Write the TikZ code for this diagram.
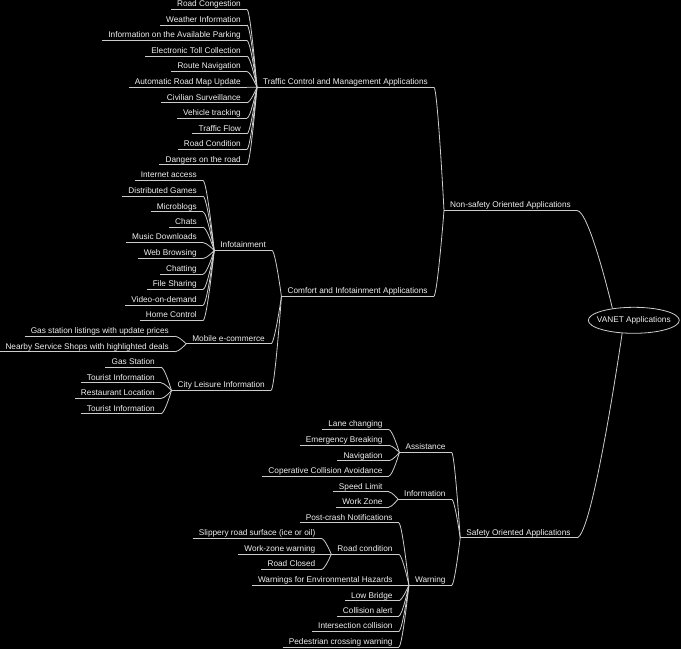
\documentclass[tikz,border=0pt]{standalone}
\usepackage{fontspec}
\setmainfont{Liberation Sans}
\usetikzlibrary{calc,shapes.geometric}
\definecolor{lc}{RGB}{205,205,205}
\definecolor{tc}{RGB}{240,240,240}
\newcommand\mmlink[2]{\draw[conn] let \p1=(#1), \p2=(#2) in (\p1) .. controls ({\x1+0.35*(\x2-\x1)},\y1) and (\p2) .. (\p2);}
\begin{document}
\begin{tikzpicture}[x=1pt,y=-1pt,
  conn/.style={draw=lc, line width=0.8pt},
  lbl/.style={anchor=south east, inner xsep=6pt, inner ysep=0.5pt, text height=6pt, text depth=2pt, text=tc, font=\fontsize{8.25}{10}\selectfont},
]
\fill[black] (0,0) rectangle (681,649);
\useasboundingbox (0,0) rectangle (681,649);

% root
\node[draw=lc, line width=0.8pt, ellipse, minimum width=91pt, minimum height=26pt, inner sep=0pt, text=tc, font=\fontsize{8.25}{10}\selectfont] (v) at (633.8,320.3) {\makebox[0pt]{VANET Applications}};

% main branches
\node[lbl] (ns) at (577,210.5) {Non-safety Oriented Applications};
\node[lbl] (saf) at (576.7,537.8) {Safety Oriented Applications};

% non-safety
\node[lbl] (tcm) at (434,87.3) {Traffic Control and Management Applications};
\node[lbl] (ci) at (433.7,296.5) {Comfort and Infotainment Applications};

\node[lbl] (t1) at (247,9.5) {Road Congestion};
\node[lbl] (t2) at (247,25.0) {Weather Information};
\node[lbl] (t3) at (247,40.6) {Information on the Available Parking};
\node[lbl] (t4) at (247,56.1) {Electronic Toll Collection};
\node[lbl] (t5) at (247,71.6) {Route Navigation};
\node[lbl] (t6) at (247,87.2) {Automatic Road Map Update};
\node[lbl] (t7) at (247,102.7) {Civilian Surveillance};
\node[lbl] (t8) at (247,118.2) {Vehicle tracking};
\node[lbl] (t9) at (247,133.8) {Traffic Flow};
\node[lbl] (t10) at (247,149.3) {Road Condition};
\node[lbl] (t11) at (247,164.8) {Dangers on the road};

\node[lbl] (inf) at (272,250.5) {Infotainment};
\node[lbl] (mob) at (271,343.8) {Mobile e-commerce};
\node[lbl] (city) at (271,390.5) {City Leisure Information};

\node[lbl] (i1) at (203,180.5) {Internet access};
\node[lbl] (i2) at (203,196.2) {Distributed Games};
\node[lbl] (i3) at (203,211.8) {Microblogs};
\node[lbl] (i4) at (203,227.2) {Chats};
\node[lbl] (i5) at (203,242.6) {Music Downloads};
\node[lbl] (i6) at (203,258.5) {Web Browsing};
\node[lbl] (i7) at (203,274.2) {Chatting};
\node[lbl] (i8) at (203,289.5) {File Sharing};
\node[lbl] (i9) at (203,305.2) {Video-on-demand};
\node[lbl] (i10) at (203,320.5) {Home Control};

\node[lbl] (m1) at (175,336.2) {Gas station listings with update prices};
\node[lbl] (m2) at (175,351.8) {Nearby Service Shops with highlighted deals};

\node[lbl] (c1) at (161,367.2) {Gas Station};
\node[lbl] (c2) at (161,382.8) {Tourist Information};
\node[lbl] (c3) at (161,398.5) {Restaurant Location};
\node[lbl] (c4) at (161,413.8) {Tourist Information};

% safety
\node[lbl] (ast) at (451.7,452.5) {Assistance};
\node[lbl] (info) at (451.7,499.2) {Information};
\node[lbl] (warn) at (451.7,585.2) {Warning};

\node[lbl] (a1) at (388.7,429.5) {Lane changing};
\node[lbl] (a2) at (388.7,445.2) {Emergency Breaking};
\node[lbl] (a3) at (388.7,460.8) {Navigation};
\node[lbl] (a4) at (388.7,476.2) {Coperative Collision Avoidance};

\node[lbl] (f1) at (388.7,491.8) {Speed Limit};
\node[lbl] (f2) at (388.7,507.2) {Work Zone};

\node[lbl] (w1) at (398.7,522.8) {Post-crash Notifications};
\node[lbl] (w2) at (398.7,554.2) {Road condition};
\node[lbl] (w3) at (398.7,585.2) {Warnings for Environmental Hazards};
\node[lbl] (w4) at (398.7,600.8) {Low Bridge};
\node[lbl] (w5) at (398.7,616.2) {Collision alert};
\node[lbl] (w6) at (398.7,631.5) {Intersection collision};
\node[lbl] (w7) at (398.7,647.2) {Pedestrian crossing warning};

\node[lbl] (r1) at (321.5,538.5) {Slippery road surface (ice or oil)};
\node[lbl] (r2) at (321.5,554.2) {Work-zone warning};
\node[lbl] (r3) at (321.5,569.5) {Road Closed};

% underlines
\foreach \n in {ns,saf,tcm,ci,t1,t2,t3,t4,t5,t6,t7,t8,t9,t10,t11,inf,mob,city,i1,i2,i3,i4,i5,i6,i7,i8,i9,i10,m1,m2,c1,c2,c3,c4,ast,info,warn,a1,a2,a3,a4,f1,f2,w1,w2,w3,w4,w5,w6,w7,r1,r2,r3}
  \draw[conn] (\n.south west) -- (\n.south east);

% connectors
\mmlink{ns.south east}{v.151}
\mmlink{saf.south east}{v.228}
\mmlink{tcm.south east}{ns.south west}
\mmlink{ci.south east}{ns.south west}
\foreach \i in {1,...,11} {\mmlink{t\i.south east}{tcm.south west}}
\mmlink{inf.south east}{ci.south west}
\mmlink{mob.south east}{ci.south west}
\mmlink{city.south east}{ci.south west}
\foreach \i in {1,...,10} {\mmlink{i\i.south east}{inf.south west}}
\foreach \i in {1,2} {\mmlink{m\i.south east}{mob.south west}}
\foreach \i in {1,...,4} {\mmlink{c\i.south east}{city.south west}}
\mmlink{ast.south east}{saf.south west}
\mmlink{info.south east}{saf.south west}
\mmlink{warn.south east}{saf.south west}
\foreach \i in {1,...,4} {\mmlink{a\i.south east}{ast.south west}}
\foreach \i in {1,2} {\mmlink{f\i.south east}{info.south west}}
\foreach \i in {1,...,7} {\mmlink{w\i.south east}{warn.south west}}
\foreach \i in {1,2,3} {\mmlink{r\i.south east}{w2.south west}}
\end{tikzpicture}
\end{document}
